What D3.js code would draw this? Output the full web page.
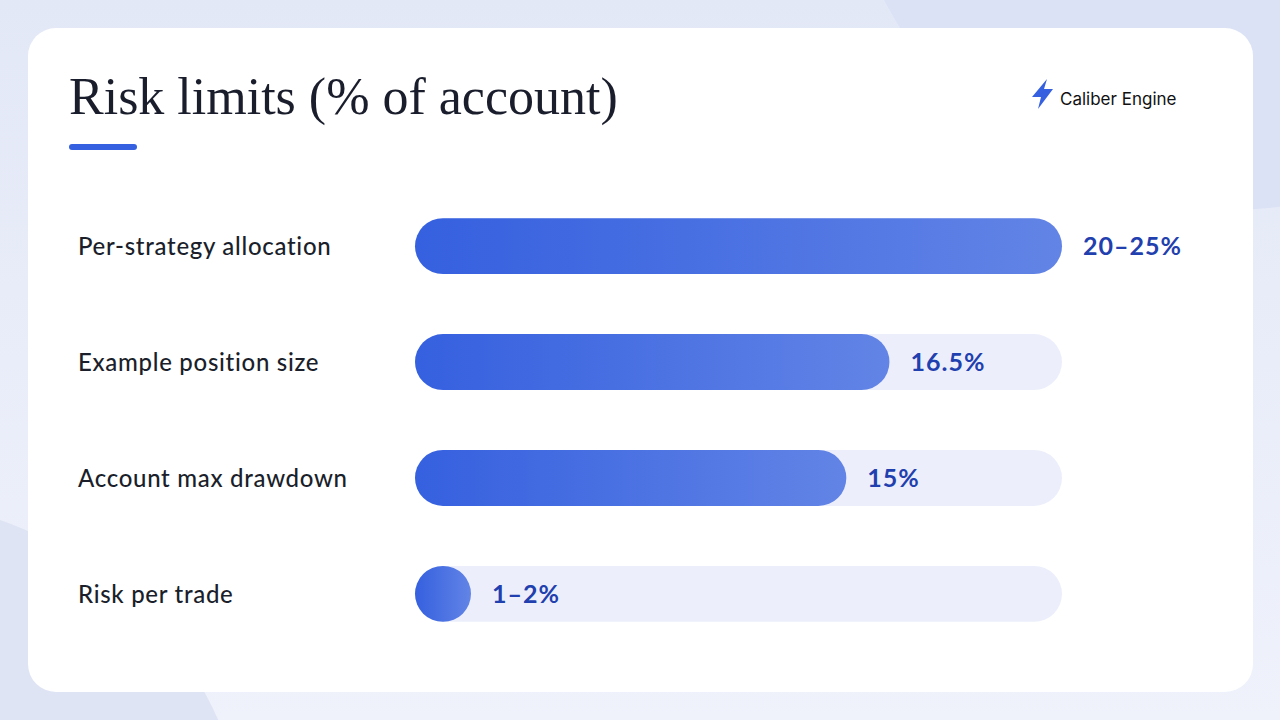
<!DOCTYPE html>
<html>
<head>
<meta charset="utf-8">
<script src="https://cdn.jsdelivr.net/npm/d3@7"></script>
<style>
  html, body { margin: 0; padding: 0; width: 1280px; height: 720px; overflow: hidden; }
</style>
</head>
<body>
<div id="chart"></div>
<script>
const categories = ["Per-strategy allocation", "Example position size", "Account max drawdown", "Risk per trade"];
const values = [22.5, 16.5, 15, 1.5];          // midpoints of the ranges shown
const valueLabels = ["20–25%", "16.5%", "15%", "1–2%"];
const titleText = "Risk limits (% of account)";
const brandText = "Caliber Engine";

const width = 1280;
const height = 720;

const svg = d3.select("#chart")
  .append("svg")
  .attr("width", width)
  .attr("height", height);

const defs = svg.append("defs");

const bgGrad = defs.append("linearGradient")
  .attr("id", "bg")
  .attr("x1", 0).attr("y1", 0).attr("x2", 0).attr("y2", 1);
bgGrad.append("stop").attr("offset", "0%").attr("stop-color", "#e3e8f7");
bgGrad.append("stop").attr("offset", "100%").attr("stop-color", "#eff2fb");

const barGrad = defs.append("linearGradient")
  .attr("id", "barFill")
  .attr("x1", 0).attr("y1", 0).attr("x2", 1).attr("y2", 0);
barGrad.append("stop").attr("offset", "0%").attr("stop-color", "#3560df");
barGrad.append("stop").attr("offset", "100%").attr("stop-color", "#6284e6");

// background + soft shapes
svg.append("rect").attr("width", width).attr("height", height).attr("fill", "url(#bg)");
svg.append("circle").attr("cx", 1230).attr("cy", -180).attr("r", 390).attr("fill", "#dce2f5");
svg.append("circle").attr("cx", -120).attr("cy", 870).attr("r", 370).attr("fill", "#dfe4f5");

// card
svg.append("rect")
  .attr("x", 28).attr("y", 28)
  .attr("width", 1225).attr("height", 664)
  .attr("rx", 28)
  .attr("fill", "#ffffff");

// title
svg.append("text")
  .attr("x", 69)
  .attr("y", 114)
  .attr("font-family", "'Liberation Serif', 'DejaVu Serif', serif")
  .attr("font-size", 52)
  .attr("fill", "#1a1e2c")
  .text(titleText);

svg.append("rect")
  .attr("x", 69).attr("y", 144)
  .attr("width", 68).attr("height", 6)
  .attr("rx", 3)
  .attr("fill", "#3560df");

// brand
svg.append("path")
  .attr("d", "M1047,79 L1032,97 L1041,97 L1038,109 L1053,89 L1044,89 Z")
  .attr("fill", "#3560df");

svg.append("text")
  .attr("x", 1060)
  .attr("y", 105)
  .attr("font-family", "Inter, 'Noto Sans', sans-serif")
  .attr("font-size", 17)
  .attr("fill", "#111111")
  .text(brandText);

// bars
const x = d3.scaleLinear()
  .domain([0, d3.max(values)])
  .range([415, 1062]);

const y = d3.scaleBand()
  .domain(categories)
  .range([188, 652])
  .paddingInner(0.517)
  .paddingOuter(0.26);

const barH = y.bandwidth();

const rows = svg.selectAll(".row")
  .data(categories)
  .enter()
  .append("g")
  .attr("class", "row")
  .attr("transform", d => `translate(0,${y(d)})`);

rows.append("text")
  .attr("x", 78)
  .attr("y", barH / 2)
  .attr("dy", "0.36em")
  .attr("font-family", "Lato, 'Open Sans', sans-serif")
  .attr("font-size", 24)
  .attr("font-weight", 500)
  .attr("letter-spacing", 0.7)
  .attr("fill", "#1b1f2b")
  .text(d => d);

rows.append("rect")
  .attr("x", x(0))
  .attr("width", x.range()[1] - x(0))
  .attr("height", barH)
  .attr("rx", barH / 2)
  .attr("fill", "#eceffb");

const barW = (d, i) => Math.max(x(values[i]) - x(0), barH);

rows.append("rect")
  .attr("x", x(0))
  .attr("width", barW)
  .attr("height", barH)
  .attr("rx", barH / 2)
  .attr("fill", "url(#barFill)");

rows.append("text")
  .attr("x", (d, i) => x(0) + barW(d, i) + 21)
  .attr("y", barH / 2)
  .attr("dy", "0.36em")
  .attr("font-family", "Lato, 'Open Sans', sans-serif")
  .attr("font-size", 25)
  .attr("font-weight", 700)
  .attr("letter-spacing", 1)
  .attr("fill", "#1f40ae")
  .text((d, i) => valueLabels[i]);
</script>
</body>
</html>
